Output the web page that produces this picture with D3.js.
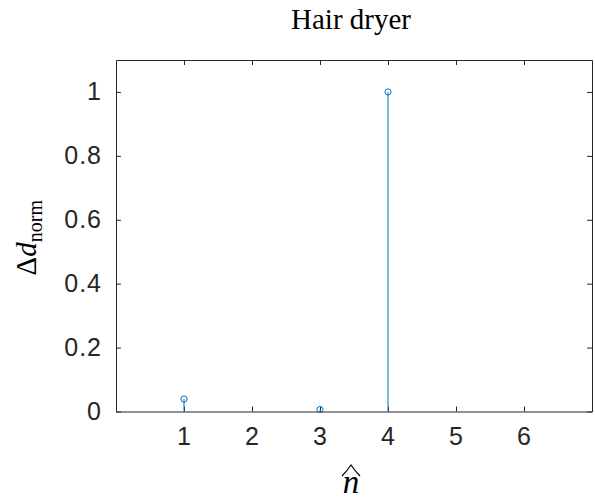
<!DOCTYPE html>
<html>
<head>
<meta charset="utf-8">
<script src="https://cdn.jsdelivr.net/npm/d3@7"></script>
<style>
  html, body { margin: 0; padding: 0; background: #fff; }
  svg { display: block; }
</style>
</head>
<body>
<svg id="chart" width="595" height="501"></svg>
<script>
// ---- data ----
const nValues = [1, 3, 4];
const dNorm = [0.039, 0.006, 1.0];
const xTicks = [1, 2, 3, 4, 5, 6];
const yTicks = [0, 0.2, 0.4, 0.6, 0.8, 1];
const xDomain = [0, 7];
const yDomain = [0, 1.1];
const title = "Hair dryer";

const W = 595, H = 501;
const margin = { left: 116, right: 3, top: 60, bottom: 89.5 };
const svg = d3.select("#chart");
const x = d3.scaleLinear().domain(xDomain).range([margin.left, W - margin.right]);
const y = d3.scaleLinear().domain(yDomain).range([H - margin.bottom, margin.top]);
const axisColor = "#262626";
const lineColor = "#0072BD";
const tickFont = "'Liberation Sans', Arial, Helvetica, sans-serif";
const serif = "'Liberation Serif', 'Times New Roman', serif";

const tickLen = 5;
const gx = svg.append("g").attr("transform", `translate(0,${y(yDomain[0])})`)
  .call(d3.axisBottom(x).tickValues(xTicks).tickFormat(d3.format("d")).tickSizeInner(-tickLen).tickSizeOuter(0).tickPadding(16));
const gxt = svg.append("g").attr("transform", `translate(0,${y(yDomain[1])})`)
  .call(d3.axisTop(x).tickValues(xTicks).tickFormat("").tickSizeInner(-tickLen).tickSizeOuter(0));
const gy = svg.append("g").attr("transform", `translate(${x(xDomain[0])},0)`)
  .call(d3.axisLeft(y).tickValues(yTicks).tickFormat(d => d === 0 || d === 1 ? d3.format("d")(d) : d3.format(".1f")(d)).tickSizeInner(-tickLen).tickSizeOuter(0).tickPadding(14));
const gyr = svg.append("g").attr("transform", `translate(${x(xDomain[1])},0)`)
  .call(d3.axisRight(y).tickValues(yTicks).tickFormat("").tickSizeInner(-tickLen).tickSizeOuter(0));

[gx, gxt, gy, gyr].forEach(g => {
  g.attr("font-size", null).attr("font-family", null);
  g.selectAll("path.domain").attr("stroke", axisColor).attr("stroke-width", 1);
  g.selectAll(".tick line").attr("stroke", axisColor).attr("stroke-width", 1);
  g.selectAll(".tick text").attr("fill", axisColor)
    .style("font-family", tickFont).style("font-size", "25px").style("letter-spacing", "1px");
});

// stems
const data = nValues.map((n, i) => ({ n, v: dNorm[i] }));
svg.append("g").selectAll("line").data(data).join("line")
  .attr("x1", d => x(d.n)).attr("x2", d => x(d.n))
  .attr("y1", y(0)).attr("y2", d => y(d.v))
  .attr("stroke", lineColor).attr("stroke-width", 1);
svg.append("g").selectAll("circle").data(data).join("circle")
  .attr("cx", d => x(d.n)).attr("cy", d => y(d.v)).attr("r", 3.1)
  .attr("fill", "none").attr("stroke", lineColor).attr("stroke-width", 1);

// title
const cx = (x(xDomain[0]) + x(xDomain[1])) / 2;
svg.append("text").attr("x", cx - 3).attr("y", 29).attr("text-anchor", "middle")
  .style("font-family", serif).style("font-size", "29px").attr("fill", "#000").text(title);

// y label
const yl = svg.append("text").attr("transform", `translate(36,${(y(yDomain[0]) + y(yDomain[1])) / 2 + 2}) rotate(-90)`)
  .attr("text-anchor", "middle").style("font-family", serif).style("font-size", "29px").attr("fill", "#000");
yl.append("tspan").text("Δ");
yl.append("tspan").style("font-style", "italic").text("d");
yl.append("tspan").attr("dy", 6).style("font-size", "20px").text("norm");

// x label: n with wide hat
const xl = svg.append("g").attr("transform", `translate(${cx - 3},493)`);
xl.append("text").attr("text-anchor", "middle").style("font-family", serif).style("font-style", "italic")
  .style("font-size", "33px").attr("fill", "#000").text("n");
xl.append("path").attr("d", "M-9,-17 Q-4,-22 0,-28 Q4,-22 9,-17").attr("fill", "none").attr("stroke", "#000").attr("stroke-width", 1.2);
</script>
</body>
</html>
